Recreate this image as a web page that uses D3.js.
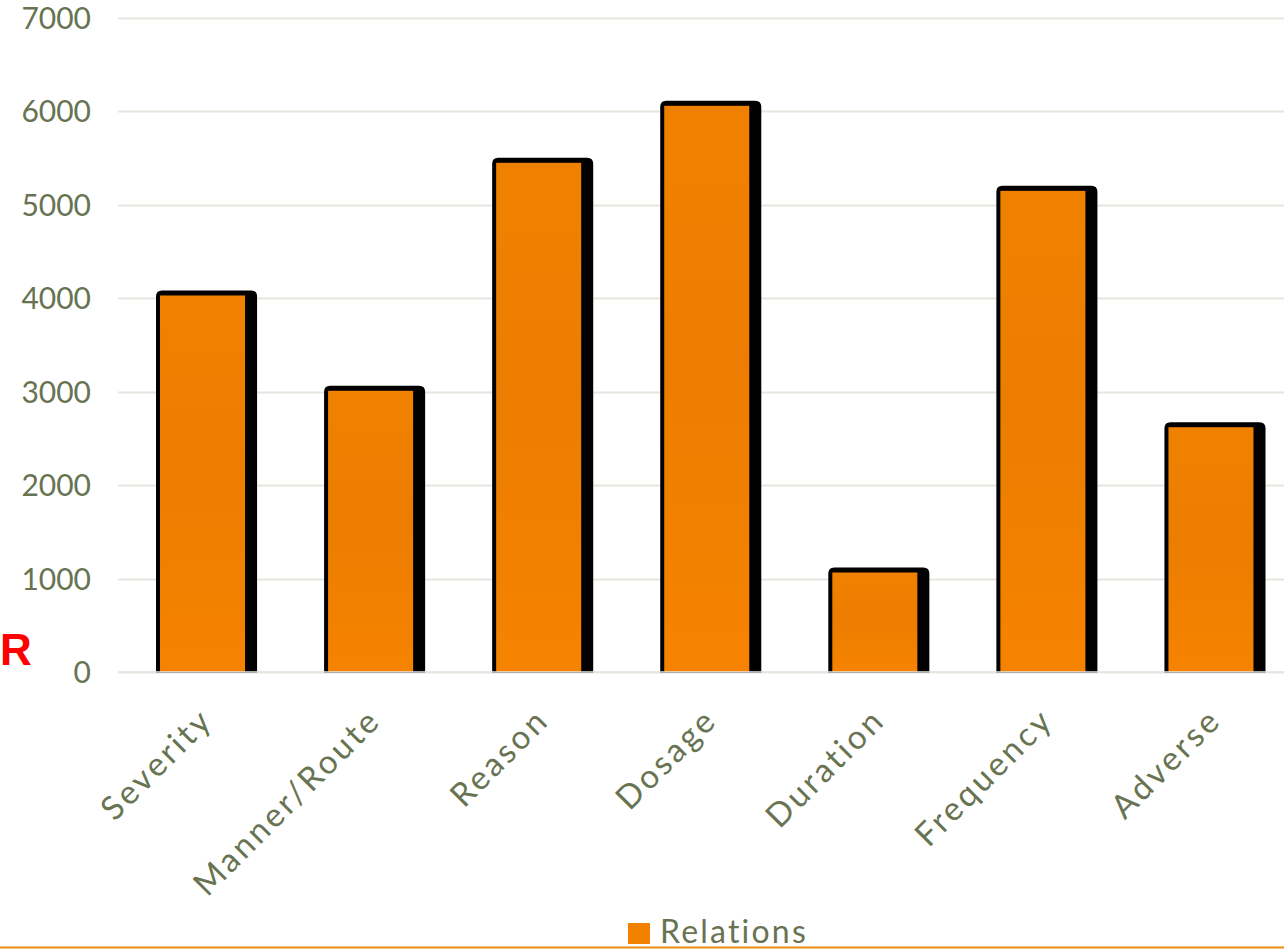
<!DOCTYPE html>
<html>
<head>
<meta charset="utf-8">
<script src="https://cdn.jsdelivr.net/npm/d3@7"></script>
<style>
  html, body { margin: 0; padding: 0; background: #ffffff; }
  svg { display: block; }
</style>
</head>
<body>
<svg id="chart" width="1284" height="949"></svg>
<script>
const categories = ["Severity", "Manner/Route", "Reason", "Dosage", "Duration", "Frequency", "Adverse"];
const relations = [4030, 3010, 5450, 6060, 1065, 5150, 2620];
const yTicks = [0, 1000, 2000, 3000, 4000, 5000, 6000, 7000];
const seriesName = "Relations";

const W = 1284, H = 949;
const textColor = "#687352";
const fontFamily = "Lato, 'Open Sans', sans-serif";

const svg = d3.select("#chart");

const defs = svg.append("defs");
const grad = defs.append("linearGradient").attr("id", "barGrad")
  .attr("x1", 0).attr("y1", 0).attr("x2", 0).attr("y2", 1);
grad.append("stop").attr("offset", "0%").attr("stop-color", "#F08100");
grad.append("stop").attr("offset", "45%").attr("stop-color", "#EC7D00");
grad.append("stop").attr("offset", "100%").attr("stop-color", "#F68300");

const x = d3.scaleBand().domain(categories).range([118.5, 1295]).paddingInner(0.494).paddingOuter(0.247);
const y = d3.scaleLinear().domain([0, 7000]).range([672, 18]);

// gridlines
svg.append("g").selectAll("line").data(yTicks).join("line")
  .attr("x1", 118).attr("x2", W)
  .attr("y1", d => Math.round(y(d)) + 0.5).attr("y2", d => Math.round(y(d)) + 0.5)
  .attr("stroke", "#e6e6e0").attr("stroke-width", 2);

// y axis labels
const yAxis = d3.axisLeft(y).tickValues(yTicks).tickSize(0).tickPadding(0).tickFormat(d3.format("d"));
const gy = svg.append("g").attr("transform", "translate(91,0)").call(yAxis);
gy.select(".domain").remove();
gy.selectAll("text").attr("fill", textColor).attr("font-family", fontFamily).attr("font-size", 30)
  .attr("dy", "0.35em");

// bars: black shadow then orange
function topRounded(x0, y0, w, h, r) {
  return `M${x0},${y0 + h}V${y0 + r}Q${x0},${y0} ${x0 + r},${y0}H${x0 + w - r}Q${x0 + w},${y0} ${x0 + w},${y0 + r}V${y0 + h}Z`;
}
const bars = svg.append("g");
bars.selectAll("path.shadow").data(categories).join("path").attr("class", "shadow")
  .attr("d", (c, i) => {
    const x0 = x(c) - 4, w = x.bandwidth() + 16;
    const y0 = y(relations[i]) - 5, h = y(0) + 1 - y0;
    return topRounded(x0, y0, w, h, 6);
  })
  .attr("fill", "#000");
bars.selectAll("rect.bar").data(categories).join("rect").attr("class", "bar")
  .attr("x", c => x(c))
  .attr("y", (c, i) => y(relations[i]))
  .attr("width", x.bandwidth())
  .attr("height", (c, i) => y(0) - y(relations[i]))
  .attr("fill", "url(#barGrad)");

// light baseline on top of bars
svg.append("line").attr("x1", 118).attr("x2", W).attr("y1", 672).attr("y2", 672)
  .attr("stroke", "#e6e6e0").attr("stroke-width", 1.5);

// x labels
svg.append("g").selectAll("text").data(categories).join("text")
  .attr("transform", c => `translate(${x(c) + x.bandwidth() / 2 + 4},714) rotate(-45)`)
  .attr("text-anchor", "end").attr("dy", "0.35em")
  .attr("fill", textColor).attr("font-family", fontFamily).attr("font-size", 33)
  .attr("letter-spacing", 3)
  .text(c => c);

// legend
const lg = svg.append("g");
lg.append("rect").attr("x", 628).attr("y", 923).attr("width", 22).attr("height", 21).attr("fill", "#F28100");
lg.append("text").attr("x", 660).attr("y", 943).attr("fill", textColor)
  .attr("font-family", fontFamily).attr("font-size", 32).attr("letter-spacing", 2.2).text(seriesName);

// bottom orange line
svg.append("line").attr("x1", 0).attr("x2", W).attr("y1", 947.5).attr("y2", 947.5)
  .attr("stroke", "#EF8A10").attr("stroke-width", 2);

// red R
svg.append("text").attr("x", 0).attr("y", 665).attr("fill", "#ff0000")
  .attr("font-family", "'Liberation Sans', Arial, sans-serif").attr("font-weight", "bold")
  .attr("font-size", 44).text("R");
</script>
</body>
</html>
